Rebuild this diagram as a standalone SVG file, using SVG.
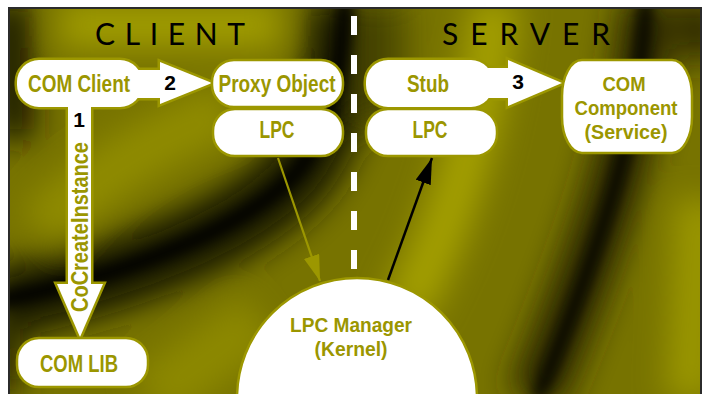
<svg xmlns="http://www.w3.org/2000/svg" xmlns:xlink="http://www.w3.org/1999/xlink" width="705" height="394" viewBox="0 0 705 394">
<style>
.lbl{font-family:"Liberation Sans",Arial,sans-serif;font-weight:bold;font-size:23px;fill:#9b9600;text-anchor:middle}
.ml{font-size:21px}
.num{font-family:"Liberation Sans",Arial,sans-serif;font-weight:bold;font-size:21px;fill:#000;text-anchor:middle}
.ttl{font-family:Lato,"Liberation Sans",Arial,sans-serif;font-weight:normal;font-size:30px;fill:#000;text-anchor:middle}
.edge{stroke:#9c9700;stroke-width:5;fill:#9c9700}
.face{fill:#fff;stroke:none}
.box{fill:#fff;stroke:#9c9700;stroke-width:2.5}
</style>
<defs>
<clipPath id="frame"><rect x="9" y="8" width="692" height="390"/></clipPath>
<filter id="b1" x="-30%" y="-30%" width="160%" height="160%"><feGaussianBlur stdDeviation="16"/></filter>
<filter id="b2" x="-30%" y="-30%" width="160%" height="160%"><feGaussianBlur stdDeviation="7"/></filter>
<marker id="ahO" markerUnits="userSpaceOnUse" viewBox="0 0 26 16" refX="26" refY="8" markerWidth="26" markerHeight="16" orient="auto"><path d="M0,0 L26,8 L0,16 Z" fill="#9c9700"/></marker>
<marker id="ahK" markerUnits="userSpaceOnUse" viewBox="0 0 26 16" refX="26" refY="8" markerWidth="26" markerHeight="16" orient="auto"><path d="M0,0 L26,8 L0,16 Z" fill="#000"/></marker>
<g id="shapeClient">
<rect x="17" y="60" width="125" height="47" rx="22"/>
<rect x="128" y="70" width="34" height="28"/>
<polygon points="160,62 212,83 160,104"/>
<rect x="68" y="100" width="23" height="186"/>
<polygon points="57,284 103,284 80,337"/>
</g>
<g id="shapeStub">
<rect x="366" y="60" width="127" height="47" rx="22"/>
<rect x="480" y="68" width="30" height="30"/>
<polygon points="508,60 562,83 508,106"/>
</g>
</defs>

<g id="background" clip-path="url(#frame)">
<rect x="9" y="8" width="692" height="390" fill="#777300"/>
<g filter="url(#b1)">
<path d="M60,25 L280,25" stroke="#a09c00" stroke-width="45" fill="none"/>
<path d="M40,230 C90,180 150,140 230,110" stroke="#8f8b00" stroke-width="55" fill="none"/>
<path d="M495,0 C485,110 455,220 405,310" stroke="#a39f00" stroke-width="50" fill="none"/>
<path d="M700,200 L690,400" stroke="#9a9600" stroke-width="50" fill="none"/>
<path d="M150,400 L260,320" stroke="#8c8800" stroke-width="60" fill="none"/>
<path d="M-10,305 C120,280 250,230 300,170 C335,120 342,60 345,0" stroke="#1e1c00" stroke-width="75" fill="none"/>
<path d="M648,0 C640,120 610,220 535,400" stroke="#2a2800" stroke-width="55" fill="none"/>
<path d="M10,0 L15,140" stroke="#1a1800" stroke-width="40" fill="none"/>
<path d="M380,0 L380,120" stroke="#4a4700" stroke-width="50" fill="none"/>
<path d="M700,0 L700,60" stroke="#2a2800" stroke-width="40" fill="none"/>
<path d="M0,340 L0,394" stroke="#2a2800" stroke-width="40" fill="none"/>
</g>
<g filter="url(#b2)">
<path d="M-10,302 C120,278 250,228 300,168 C335,118 342,60 345,0" stroke="#000" stroke-width="16" fill="none"/>
<path d="M646,0 C640,120 612,220 537,400" stroke="#000" stroke-width="12" fill="none"/>
</g>
</g>
<rect x="9" y="8" width="692" height="392" fill="none" stroke="#2b2b2b" stroke-width="2"/>

<g id="titles">
<text class="ttl" x="170" y="45" textLength="150" lengthAdjust="spacing">CLIENT</text>
<text class="ttl" x="526" y="45" textLength="168" lengthAdjust="spacing">SERVER</text>
</g>
<line id="divider" x1="354" y1="16" x2="354" y2="272" stroke="#fff" stroke-width="6" stroke-dasharray="19 20"/>

<g id="connectors">
<line x1="278" y1="158" x2="320" y2="281" stroke="#9c9700" stroke-width="2.2" marker-end="url(#ahO)"/>
<line x1="388" y1="280" x2="432" y2="158" stroke="#000" stroke-width="2.5" marker-end="url(#ahK)"/>
</g>

<g id="com-client">
<use xlink:href="#shapeClient" class="edge"/>
<use xlink:href="#shapeClient" class="face"/>
<text class="lbl" x="79" y="92" textLength="102" lengthAdjust="spacingAndGlyphs">COM Client</text>
<text class="num" x="170" y="90">2</text>
<text class="num" x="79" y="127">1</text>
<text class="lbl" transform="translate(88,227) rotate(-90)" x="0" y="0" textLength="170" lengthAdjust="spacingAndGlyphs">CoCreateInstance</text>
</g>
<g id="proxy-object">
<rect class="box" x="212" y="60" width="131" height="47" rx="22"/>
<text class="lbl" x="277" y="92" textLength="117" lengthAdjust="spacingAndGlyphs">Proxy Object</text>
</g>
<g id="lpc-client">
<rect class="box" x="213" y="109" width="130" height="47" rx="22"/>
<text class="lbl" x="277" y="138" textLength="35" lengthAdjust="spacingAndGlyphs">LPC</text>
</g>
<g id="stub">
<use xlink:href="#shapeStub" class="edge"/>
<use xlink:href="#shapeStub" class="face"/>
<text class="lbl" x="428" y="92" textLength="42" lengthAdjust="spacingAndGlyphs">Stub</text>
<text class="num" x="518" y="89">3</text>
</g>
<g id="lpc-server">
<rect class="box" x="366" y="109" width="131" height="47" rx="22"/>
<text class="lbl" x="430" y="138" textLength="35" lengthAdjust="spacingAndGlyphs">LPC</text>
</g>
<g id="com-component">
<rect class="box" x="562" y="60" width="130" height="93" rx="20" ry="36"/>
<text class="lbl ml"><tspan x="624" y="91" textLength="43" lengthAdjust="spacingAndGlyphs">COM</tspan><tspan x="626" y="115" textLength="103" lengthAdjust="spacingAndGlyphs">Component</tspan><tspan x="626" y="139" textLength="83" lengthAdjust="spacingAndGlyphs">(Service)</tspan></text>
</g>
<g id="com-lib">
<rect class="box" x="17" y="338" width="131" height="49" rx="22"/>
<text class="lbl" x="79" y="372" textLength="78" lengthAdjust="spacingAndGlyphs">COM LIB</text>
</g>
<g id="lpc-manager">
<circle class="box" cx="357" cy="398" r="120"/>
<text class="lbl ml"><tspan x="351" y="332" textLength="122" lengthAdjust="spacingAndGlyphs">LPC Manager</tspan><tspan x="351" y="356" textLength="73" lengthAdjust="spacingAndGlyphs">(Kernel)</tspan></text>
</g>
</svg>
